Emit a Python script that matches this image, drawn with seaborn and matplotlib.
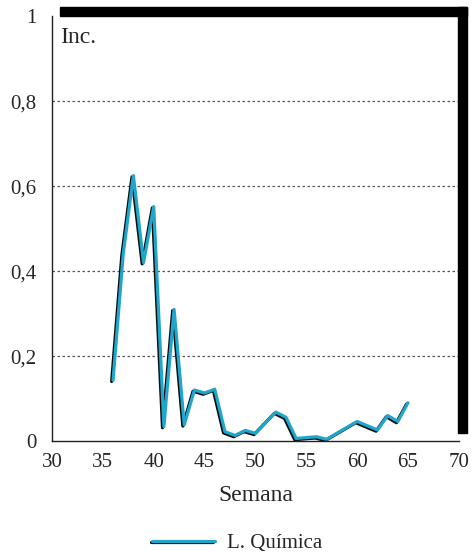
import matplotlib
matplotlib.use("Agg")
import matplotlib.pyplot as plt
import matplotlib.patheffects as pe
from matplotlib.patches import Rectangle
from matplotlib.lines import Line2D
import seaborn as sns
import pandas as pd

semana = [36, 37, 38, 39, 40, 41, 42, 43, 44, 45, 46, 47, 48, 49, 50, 52, 53, 54, 56, 57, 60, 62, 63, 64, 65]
incidencia = [0.143, 0.44, 0.625, 0.42, 0.552, 0.034, 0.31, 0.038, 0.12, 0.113, 0.122, 0.022, 0.013, 0.025,
              0.018, 0.068, 0.056, 0.006, 0.010, 0.004, 0.046, 0.026, 0.060, 0.046, 0.090]
serie = "L. Química"
xticks = [30, 35, 40, 45, 50, 55, 60, 65, 70]
yticks = [0, 0.2, 0.4, 0.6, 0.8, 1]
ylabels = ["0", "0,2", "0,4", "0,6", "0,8", "1"]

df = pd.DataFrame({"Semana": semana, "Inc": incidencia, "Serie": serie})

sns.set_style("white")
plt.rcParams["font.family"] = ["Liberation Serif", "DejaVu Serif"]

fig = plt.figure(figsize=(4.75, 5.58), dpi=100)
ax = fig.add_axes([0.1095, 0.2097, 0.8565, 0.761])

cyan = "#1ea6cc"
sns.lineplot(data=df, x="Semana", y="Inc", ax=ax, color=cyan, linewidth=2.3, legend=False)
effects = [pe.SimpleLineShadow(offset=(-1.0, -0.9), shadow_color="black", alpha=0.95), pe.Normal()]
for ln in ax.get_lines():
    ln.set_path_effects(effects)

ax.set_xlim(30, 70)
ax.set_ylim(0, 1)
ax.set_xticks(xticks)
ax.set_xticklabels([str(v) for v in xticks], fontsize=15)
ax.set_yticks(yticks)
ax.set_yticklabels(ylabels, fontsize=15)
ax.tick_params(axis="both", direction="out", length=6, width=1, color="#222222", pad=3)
ax.tick_params(axis="y", pad=5)
for y in yticks[1:-1]:
    ax.axhline(y, color="#555555", linestyle=(0, (2, 2)), linewidth=0.9, zorder=0)

for s in ["top", "right"]:
    ax.spines[s].set_visible(False)
for s in ["left", "bottom"]:
    ax.spines[s].set_color("#222222")
    ax.spines[s].set_linewidth(1.0)

ax.set_xlabel("Semana", fontsize=17, labelpad=9)
ax.set_ylabel("")
ax.text(0.02, 0.975, "Inc.", transform=ax.transAxes, ha="left", va="top", fontsize=17)

# shadow-box frame (top and right thick bars)
fig.patches.append(Rectangle((60 / 475, 1 - 16 / 558), (467 - 60) / 475, 9 / 558,
                             transform=fig.transFigure, color="black", zorder=5))
fig.patches.append(Rectangle((458 / 475, 1 - 433 / 558), 9 / 475, (433 - 7) / 558,
                             transform=fig.transFigure, color="black", zorder=5))

h = Line2D([0], [0], color=cyan, linewidth=2.3, path_effects=effects)
fig.legend([h], [serie], loc="center", bbox_to_anchor=(0.5, 0.026), frameon=False,
           fontsize=15, handlelength=3.0, handletextpad=0.6)

fig.savefig("out.png", dpi=100)
